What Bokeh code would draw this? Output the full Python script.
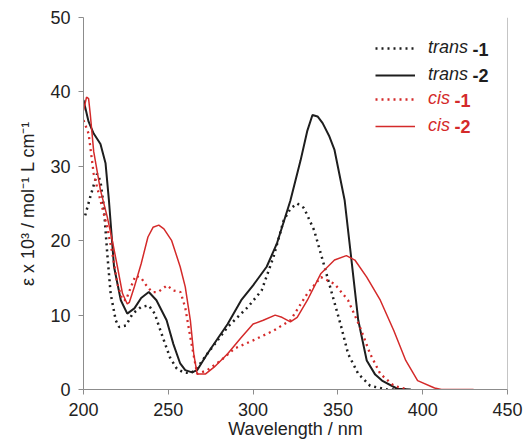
from bokeh.plotting import figure
from bokeh.models import Legend, LegendItem, Label, Span, FixedTicker
from bokeh.embed import file_html
from bokeh.resources import INLINE

# ---- data ----
trans1_x = [201, 204, 208, 210, 212, 214, 216, 219, 221, 225, 229, 234, 238.5, 242, 246, 251, 255, 259, 263, 266,
            273, 285, 297, 305, 312, 318, 322, 326, 330, 336, 341, 346, 352, 356, 362, 369, 379, 390]
trans1_y = [23.4, 25.9, 29.0, 28.0, 24.5, 18.3, 12.9, 9.3, 8.4, 8.6, 10.2, 11.1, 11.3, 10.2, 7.5, 4.3, 2.8, 2.3, 2.2, 2.6,
            4.8, 8.4, 11.1, 13.3, 17.8, 22.7, 24.3, 25.0, 24.4, 21.4, 17.4, 13.3, 8.4, 4.8, 2.1, 0.5, 0.0, 0.0]

trans2_x = [200, 203, 206, 210, 213, 215, 218, 222, 225.8, 230, 234, 238.5, 243, 249, 253, 257, 260, 264, 267,
            273, 285, 293, 300, 308, 314, 322, 328, 332, 335, 338, 341, 345, 348, 354, 358, 362, 367, 372, 376, 385, 393]
trans2_y = [38.9, 36.0, 34.4, 33.0, 30.4, 25.4, 16.5, 12.0, 10.2, 10.9, 12.3, 13.1, 12.0, 9.3, 6.1, 3.5, 2.6, 2.3, 2.6,
            4.8, 8.8, 12.0, 14.0, 16.5, 19.6, 25.4, 30.8, 34.8, 36.9, 36.7, 35.8, 34.0, 32.2, 25.4, 17.4, 9.3, 3.9, 2.0, 1.2, 0.1, 0.0]

cis1_x = [200, 203, 206, 210, 214, 217, 220, 223, 225, 228, 230.7, 234, 237, 240.4, 244, 249.3, 253, 257.2, 260,
          263, 267, 273, 281, 289, 300, 312, 322, 332, 340, 348, 356, 363, 369, 375, 383, 391]
cis1_y = [36.2, 34.4, 29.0, 25.4, 21.8, 18.3, 14.2, 12.0, 12.0, 13.8, 15.3, 15.0, 14.0, 13.1, 13.1, 14.0, 13.3, 13.1, 11.0,
          7.0, 2.1, 2.6, 3.9, 5.5, 6.6, 7.9, 9.3, 12.9, 15.1, 14.2, 12.0, 8.4, 4.8, 2.1, 0.5, 0.0]

cis2_x = [200, 201.8, 203, 204, 206, 210, 214, 217, 220, 223, 225.8, 227, 230, 234, 238, 241, 244.4, 247.4, 252, 257,
          260, 263, 265, 267, 272, 277, 285, 293, 300, 306, 313, 317, 322, 326, 332, 340, 348, 355, 360, 367, 375,
          383, 390, 397, 407, 411, 430]
cis2_y = [37.5, 39.3, 39.1, 37.0, 32.0, 26.8, 23.2, 20.0, 16.5, 12.9, 11.5, 11.7, 13.8, 16.9, 20.5, 21.8, 22.1, 21.6, 20.0, 16.5,
          13.8, 9.3, 4.8, 2.1, 2.1, 3.0, 4.8, 7.0, 8.8, 9.3, 10.0, 9.7, 9.1, 9.7, 12.0, 15.6, 17.4, 18.0, 17.4, 15.1, 12.0,
          7.9, 3.9, 1.2, 0.2, 0.0, 0.0]

x_ticks = [200, 250, 300, 350, 400, 450]
y_ticks = [0, 10, 20, 30, 40, 50]

BLACK = "#1e1e1e"
RED = "#d42a2a"
AXIS = "#8c8c8c"
FONT = "Liberation Sans"

p = figure(width=524, height=442, x_range=(200, 450), y_range=(0, 50),
           output_backend="svg", toolbar_location=None,
           min_border_left=83, min_border_right=17, min_border_top=17, min_border_bottom=53)

p.xgrid.visible = False
p.ygrid.visible = False
p.outline_line_color = None
p.background_fill_color = "white"
p.border_fill_color = "white"

for ax in (p.xaxis[0], p.yaxis[0]):
    ax.axis_line_color = AXIS
    ax.major_tick_line_color = AXIS
    ax.minor_tick_line_color = None
    ax.major_tick_in = 0
    ax.major_tick_out = 5
    ax.major_label_text_font = FONT
    ax.major_label_text_font_size = "18px"
    ax.major_label_text_color = "#222222"
    ax.axis_label_text_font = FONT
    ax.axis_label_text_font_style = "normal"
    ax.axis_label_text_color = "#222222"

p.xaxis.ticker = FixedTicker(ticks=x_ticks)
p.yaxis.ticker = FixedTicker(ticks=y_ticks)
p.xaxis.axis_label = "Wavelength / nm"
p.xaxis.axis_label_text_font_size = "18px"
p.xaxis.major_label_standoff = 8
p.xaxis.axis_label_standoff = 0
p.yaxis.axis_label = "ε x 10³ / mol⁻¹ L cm⁻¹"
p.yaxis.axis_label_text_font_size = "18px"
p.yaxis.major_label_standoff = 8
p.yaxis.axis_label_standoff = 9

p.add_layout(Span(location=450, dimension="height", line_color=AXIS, line_width=1))

r_t1 = p.line(trans1_x, trans1_y, line_color=BLACK, line_width=2.5, line_dash="2 4")
r_t2 = p.line(trans2_x, trans2_y, line_color=BLACK, line_width=2)
r_c1 = p.line(cis1_x, cis1_y, line_color=RED, line_width=2.3, line_dash="2 4")
r_c2 = p.line(cis2_x, cis2_y, line_color=RED, line_width=1.5)

def make_legend(items, color, loc):
    lg = Legend(items=items, location=loc, orientation="vertical",
                glyph_width=40, glyph_height=20, label_height=20, spacing=6,
                label_standoff=13, padding=0, margin=0, border_line_color=None,
                background_fill_alpha=0,
                label_text_font=FONT, label_text_font_size="18px",
                label_text_font_style="italic", label_text_color=color)
    p.add_layout(lg, "center")
    return lg

make_legend([LegendItem(label="trans", renderers=[r_t1]),
             LegendItem(label="trans", renderers=[r_t2])], BLACK, (292, 304))
make_legend([LegendItem(label="cis", renderers=[r_c1]),
             LegendItem(label="cis", renderers=[r_c2])], RED, (292, 253))

for txt, xs, ys, col in [("-1", 389, 340, BLACK), ("-2", 389, 314, BLACK),
                         ("-1", 371, 289, RED), ("-2", 371, 263, RED)]:
    p.add_layout(Label(x=xs, y=ys, x_units="screen", y_units="screen", text=txt,
                       text_font=FONT, text_font_size="18px", text_font_style="bold",
                       text_color=col, text_baseline="middle"))

open("out.html", "w").write(file_html(p, INLINE))
